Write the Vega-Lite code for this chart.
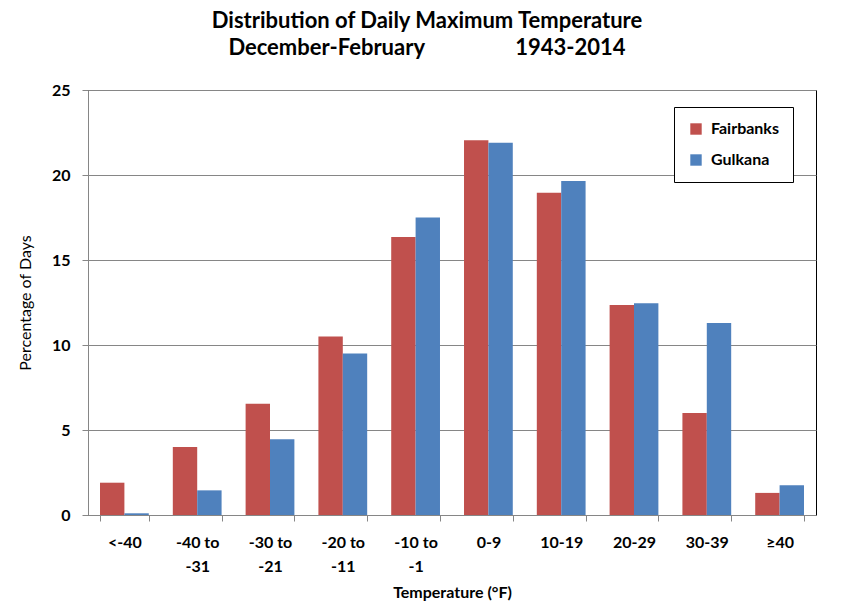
{
  "$schema": "https://vega.github.io/schema/vega-lite/v6.json",
  "width": 728,
  "height": 425,
  "autosize": {"type": "none"},
  "padding": {"left": 88, "top": 90, "right": 38, "bottom": 92},
  "background": "white",
  "title": {
    "text": ["Distribution of Daily Maximum Temperature", "December-February\u00a0\u00a0\u00a0\u00a0\u00a0\u00a0\u00a0\u00a0\u00a0\u00a0\u00a0\u00a0\u00a0\u00a0\u00a0\u00a0\u00a01943-2014"],
    "anchor": "middle",
    "frame": "group",
    "dx": -25,
    "offset": 22,
    "font": "Lato",
    "fontSize": 22,
    "fontWeight": "bold",
    "lineHeight": 27,
    "color": "black"
  },
  "data": {
    "values": [
      {"range": "<-40", "station": "Fairbanks", "pct": 1.9},
      {"range": "<-40", "station": "Gulkana", "pct": 0.1},
      {"range": "-40 to -31", "station": "Fairbanks", "pct": 4.0},
      {"range": "-40 to -31", "station": "Gulkana", "pct": 1.45},
      {"range": "-30 to -21", "station": "Fairbanks", "pct": 6.55},
      {"range": "-30 to -21", "station": "Gulkana", "pct": 4.45},
      {"range": "-20 to -11", "station": "Fairbanks", "pct": 10.5},
      {"range": "-20 to -11", "station": "Gulkana", "pct": 9.5},
      {"range": "-10 to -1", "station": "Fairbanks", "pct": 16.35},
      {"range": "-10 to -1", "station": "Gulkana", "pct": 17.5},
      {"range": "0-9", "station": "Fairbanks", "pct": 22.05},
      {"range": "0-9", "station": "Gulkana", "pct": 21.9},
      {"range": "10-19", "station": "Fairbanks", "pct": 18.95},
      {"range": "10-19", "station": "Gulkana", "pct": 19.65},
      {"range": "20-29", "station": "Fairbanks", "pct": 12.35},
      {"range": "20-29", "station": "Gulkana", "pct": 12.45},
      {"range": "30-39", "station": "Fairbanks", "pct": 6.0},
      {"range": "30-39", "station": "Gulkana", "pct": 11.3},
      {"range": "≥40", "station": "Fairbanks", "pct": 1.3},
      {"range": "≥40", "station": "Gulkana", "pct": 1.75}
    ]
  },
  "mark": {"type": "bar"},
  "encoding": {
    "x": {
      "field": "range",
      "type": "nominal",
      "sort": null,
      "scale": {"paddingInner": 0.33, "paddingOuter": 0.165},
      "title": "Temperature (°F)",
      "axis": {
        "labelAngle": 0,
        "labelFont": "Lato",
        "labelFontSize": 16,
        "labelFontWeight": "bold",
        "labelColor": "black",
        "labelPadding": 13,
        "labelLineHeight": 24,
        "labelBaseline": "top",
        "labelExpr": "indexof(datum.label, ' to ') > 0 ? [slice(datum.label, 0, indexof(datum.label, ' to ') + 3), slice(datum.label, indexof(datum.label, ' to ') + 4)] : datum.label",
        "domainColor": "#868686",
        "tickColor": "#868686",
        "tickSize": 6,
        "tickBand": "extent",
        "titleFont": "Lato",
        "titleFontSize": 16,
        "titleFontWeight": "bold",
        "titleColor": "black",
        "titlePadding": 10
      }
    },
    "xOffset": {"field": "station", "type": "nominal"},
    "y": {
      "field": "pct",
      "type": "quantitative",
      "scale": {"domain": [0, 25]},
      "title": "Percentage of Days",
      "axis": {
        "values": [0, 5, 10, 15, 20, 25],
        "labelFont": "Lato",
        "labelFontSize": 16,
        "labelFontWeight": "bold",
        "labelColor": "black",
        "labelPadding": 12,
        "domainColor": "#868686",
        "tickColor": "#868686",
        "tickSize": 6,
        "gridColor": "#868686",
        "gridWidth": 1,
        "titleFont": "Lato",
        "titleFontSize": 16,
        "titleFontWeight": "normal",
        "titleColor": "black",
        "titlePadding": 18
      }
    },
    "color": {
      "field": "station",
      "type": "nominal",
      "scale": {"domain": ["Fairbanks", "Gulkana"], "range": ["#C0504D", "#4F81BD"]},
      "legend": {
        "title": null,
        "orient": "none",
        "legendX": 586,
        "legendY": 17,
        "direction": "vertical",
        "symbolType": "square",
        "symbolSize": 130,
        "symbolStrokeWidth": 0,
        "labelFont": "Lato",
        "labelFontSize": 16,
        "labelFontWeight": "bold",
        "labelColor": "black",
        "labelOffset": 7,
        "rowPadding": 15,
        "padding": 14,
        "strokeColor": "black",
        "fillColor": "white"
      }
    }
  },
  "config": {
    "view": {"stroke": "black", "strokeWidth": 1}
  }
}
